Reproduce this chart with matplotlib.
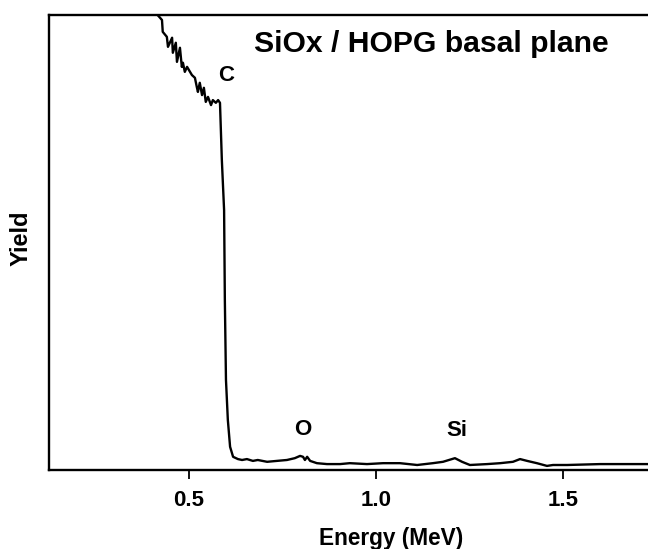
#!/usr/bin/env python3
import numpy as np
import matplotlib
matplotlib.use("Agg")
import matplotlib.pyplot as plt

# === data ===
energy_mev = [0.369, 0.412, 0.428, 0.430, 0.441, 0.444, 0.455, 0.457, 0.465, 0.468,
              0.476, 0.481, 0.484, 0.489, 0.495, 0.508, 0.516, 0.521, 0.524, 0.529,
              0.535, 0.540, 0.545, 0.551, 0.559, 0.564, 0.572, 0.578, 0.583, 0.588,
              0.594, 0.596, 0.599, 0.604, 0.610, 0.618, 0.631, 0.642, 0.655, 0.671,
              0.684, 0.709, 0.735, 0.762, 0.783, 0.797, 0.805, 0.810, 0.816, 0.824,
              0.842, 0.869, 0.904, 0.930, 0.976, 1.019, 1.064, 1.110, 1.152, 1.179,
              1.211, 1.230, 1.251, 1.297, 1.332, 1.366, 1.385, 1.404, 1.430, 1.457,
              1.473, 1.511, 1.599, 1.687, 1.750]
yield_au = [1077, 1004, 989, 963, 952, 930, 950, 917, 939, 897,
            928, 886, 895, 875, 886, 868, 862, 842, 831, 851,
            824, 840, 809, 820, 802, 813, 807, 813, 807, 681,
            571, 374, 198, 110, 51, 29, 24, 22, 24, 20,
            22, 18, 20, 22, 26, 31, 29, 22, 29, 20,
            15, 13, 13, 15, 13, 15, 15, 11, 15, 18,
            26, 18, 11, 13, 15, 18, 24, 20, 15, 9,
            11, 11, 13, 13, 13]

peak_labels = ["C", "O", "Si"]
peak_energy = [0.599, 0.805, 1.217]
peak_yield = [866, 90, 86]

x_ticks = [0.5, 1.0, 1.5]

plt.rcParams['font.family'] = ['Liberation Sans', 'DejaVu Sans']
plt.rcParams['font.weight'] = 'bold'

fig = plt.figure(figsize=(6.48, 5.49), dpi=100)
ax = fig.add_axes([49 / 648, 79 / 549, 1 - 49 / 648, 455 / 549])

ax.plot(energy_mev, yield_au, color="black", linewidth=1.7)

for lab, e, y in zip(peak_labels, peak_energy, peak_yield):
    ax.text(e, y, lab, ha='center', va='center', fontsize=16, fontweight='bold')

ax.set_xlim(0.126, 1.727)
ax.set_ylim(0, 1000)
ax.set_xticks(x_ticks)
ax.set_xticklabels([f"{t:.1f}" for t in x_ticks])
ax.set_yticks([])
ax.tick_params(axis='x', direction='out', length=6.5, width=1.3, pad=8,
               labelsize=16)
for lab in ax.get_xticklabels():
    lab.set_fontweight('bold')

for side in ('left', 'bottom', 'top'):
    ax.spines[side].set_linewidth(1.7)
ax.spines['right'].set_visible(False)

fig.text(254 / 648, 1 - 52 / 549, "SiOx / HOPG basal plane", ha='left',
         va='baseline', fontsize=21.7, fontweight='bold')
fig.text(21 / 648, 1 - 238 / 549, "Yield", rotation=90, ha='center',
         va='center', fontsize=17, fontweight='bold')
fig.text(391 / 648, 1 - 538 / 549, "Energy (MeV)", ha='center', va='center',
         fontsize=16.3, fontweight='bold')

fig.savefig("out.png", dpi=100)
